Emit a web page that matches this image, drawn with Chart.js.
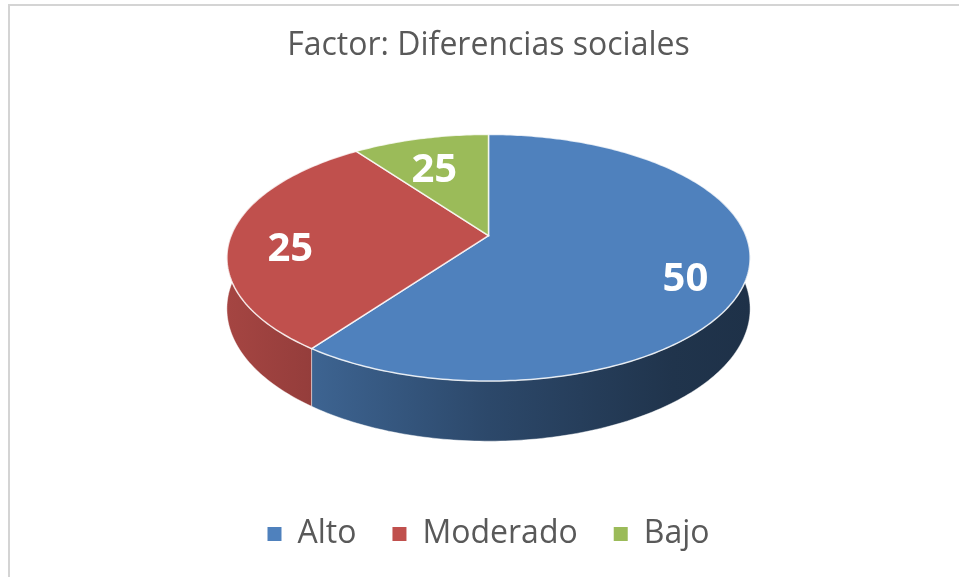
<!DOCTYPE html>
<html>
<head>
<meta charset="utf-8">
<script src="https://cdn.jsdelivr.net/npm/chart.js@4.4.1/dist/chart.umd.min.js"></script>
<style>
  html, body { margin: 0; padding: 0; background: #fff; }
</style>
</head>
<body>
<canvas id="factorChart" width="959" height="577"></canvas>
<script>
const categories = ['Alto', 'Moderado', 'Bajo'];
// slice sizes as they appear in the drawing, and the numbers printed on them
const sliceShares = [60, 30, 10];
const printedValues = [50, 25, 25];
const sliceColors = ['#4f81bd', '#c0504d', '#9bbb59'];

// tilt of the 3d pie, in units of the pie radius
const tilt = { sx: 1.298, sy: 0.602, k: 0.179, depth: 0.249, lift: 0.2424 };
const labelRadius = 0.77;
const labelDrop = 0.28;

function project(cx, cy, R, ang, drop, f) {
  f = f || 1;
  const u = Math.cos(ang) * f, v = Math.sin(ang) * f;
  const w = 1 - tilt.k * v;
  return [cx + R * tilt.sx * u / w, cy + (R * tilt.sy * v + drop * R * tilt.depth) / w];
}

function shade(hex, f) {
  const n = parseInt(hex.slice(1), 16);
  const r = Math.round(((n >> 16) & 255) * f);
  const g = Math.round(((n >> 8) & 255) * f);
  const b = Math.round((n & 255) * f);
  return 'rgb(' + r + ',' + g + ',' + b + ')';
}

const frameBorder = {
  id: 'frameBorder',
  beforeDraw(chart) {
    const ctx = chart.ctx;
    ctx.save();
    ctx.fillStyle = '#fff';
    ctx.fillRect(0, 0, chart.width, chart.height);
    ctx.strokeStyle = '#d4d4d4';
    ctx.lineWidth = 2;
    ctx.strokeRect(9, 5, chart.width + 20, chart.height + 20);
    ctx.restore();
  }
};

const pie3d = {
  id: 'pie3d',
  beforeDatasetsDraw(chart) {
    const ctx = chart.ctx;
    const arcs = chart.getDatasetMeta(0).data;
    const R = arcs[0].outerRadius;
    const cx = arcs[0].x;
    const cy = arcs[0].y - R * tilt.lift;
    const halfW = R * tilt.sx * 1.02;
    ctx.save();

    // outer walls, front half only
    arcs.forEach((arc, i) => {
      const a1 = Math.max(arc.startAngle, -0.35);
      const a2 = Math.min(arc.endAngle, Math.PI + 0.35);
      if (a2 <= a1) return;
      const steps = Math.max(8, Math.ceil((a2 - a1) * 60));
      ctx.beginPath();
      for (let s = 0; s <= steps; s++) {
        const p = project(cx, cy, R, a1 + (a2 - a1) * s / steps, 0);
        s === 0 ? ctx.moveTo(p[0], p[1]) : ctx.lineTo(p[0], p[1]);
      }
      for (let s = steps; s >= 0; s--) {
        const p = project(cx, cy, R, a1 + (a2 - a1) * s / steps, 1);
        ctx.lineTo(p[0], p[1]);
      }
      ctx.closePath();
      const g = ctx.createLinearGradient(cx - halfW, 0, cx + halfW, 0);
      g.addColorStop(0, shade(sliceColors[i], 0.86));
      g.addColorStop(0.15, shade(sliceColors[i], 0.78));
      g.addColorStop(0.5, shade(sliceColors[i], 0.56));
      g.addColorStop(0.85, shade(sliceColors[i], 0.4));
      g.addColorStop(1, shade(sliceColors[i], 0.38));
      ctx.fillStyle = g;
      ctx.fill();
      ctx.strokeStyle = 'rgba(255,255,255,0.45)';
      ctx.lineWidth = 1;
      ctx.stroke();
    });

    // top faces
    arcs.forEach((arc, i) => {
      const steps = Math.max(8, Math.ceil((arc.endAngle - arc.startAngle) * 60));
      ctx.beginPath();
      ctx.moveTo(cx, cy);
      for (let s = 0; s <= steps; s++) {
        const p = project(cx, cy, R, arc.startAngle + (arc.endAngle - arc.startAngle) * s / steps, 0);
        ctx.lineTo(p[0], p[1]);
      }
      ctx.closePath();
      ctx.fillStyle = sliceColors[i];
      ctx.fill();
      ctx.strokeStyle = 'rgba(255,255,255,0.8)';
      ctx.lineWidth = 1.5;
      ctx.stroke();
    });

    // value labels
    ctx.fillStyle = '#fff';
    ctx.font = 'bold 40px "Open Sans"';
    ctx.textAlign = 'center';
    ctx.textBaseline = 'middle';
    arcs.forEach((arc, i) => {
      const mid = (arc.startAngle + arc.endAngle) / 2;
      const p = project(cx, cy, R, mid, labelDrop, labelRadius);
      ctx.fillText(String(printedValues[i]), p[0], p[1]);
    });
    ctx.restore();
    return false;
  }
};

new Chart(document.getElementById('factorChart'), {
  type: 'pie',
  data: {
    labels: categories,
    datasets: [{
      data: sliceShares,
      backgroundColor: sliceColors,
      borderWidth: 0
    }]
  },
  options: {
    responsive: false,
    animation: false,
    events: [],
    layout: { padding: { top: 4, bottom: 17, left: 19, right: 1 } },
    plugins: {
      title: {
        display: true,
        text: 'Factor: Diferencias sociales',
        color: '#595959',
        font: { family: 'Open Sans', size: 32, weight: 'normal' },
        padding: { top: 23, bottom: 20 }
      },
      legend: {
        position: 'bottom',
        labels: {
          color: '#595959',
          font: { family: 'Open Sans', size: 32 },
          boxWidth: 14,
          boxHeight: 14,
          padding: 36
        }
      },
      tooltip: { enabled: false }
    }
  },
  plugins: [frameBorder, pie3d]
});
</script>
</body>
</html>
